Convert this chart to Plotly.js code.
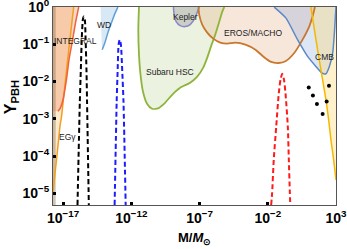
<!DOCTYPE html>
<html><head><meta charset="utf-8">
<script src="https://cdn.plot.ly/plotly-3.0.1.min.js"></script>
<style>html,body{margin:0;padding:0;background:#fff}#chart{width:347px;height:249px}</style>
</head><body><div id="chart"></div>
<script>
// All values are log10(M/Msun) and log10(Y_PBH).
const xTickExp = [-17, -12, -7, -2, 3];
const yTickExp = [0, -1, -2, -3, -4, -5];

const stripLogM = [-17.735, -17.54, -17.54, -17.735];
const stripLogY = [-5.315, -5.315, 0, 0];

const egLogM = [-17.735, -17.44, -17.21, -17.12, -16.82, -16.51, -16.22];
const egLogY = [-4.957, -3.97, -3.16, -2.97, -1.95, -0.92, 0];

const integralLogM = [-17.37, -17.21, -17.0, -16.75, -16.54, -16.32, -16.07, -15.85];
const integralLogY = [-2.80, -2.72, -2.49, -1.95, -1.36, -0.92, -0.39, 0];

const wdLeftLogM = [-14.25, -14.228, -14.169, -14.132];
const wdLeftLogY = [0, -0.471, -0.928, -1.144];
const wdLogM = [-14.132, -13.934, -13.69, -13.42, -13.20, -12.98];
const wdLogY = [-1.144, -0.955, -0.659, -0.39, -0.175, 0];

const hscLogM = [-11.434, -11.485, -11.434, -11.323, -11.14, -10.845, -10.478, -10.037, -9.522, -9.007, -8.419, -7.684, -7.168, -6.727, -6.433, -6.139, -5.845, -5.551, -5.33, -5.184];
const hscLogY = [0, -0.605, -1.278, -1.816, -2.274, -2.597, -2.731, -2.718, -2.57, -2.355, -2.166, -2.032, -1.870, -1.628, -1.359, -1.036, -0.740, -0.390, -0.121, 0];

const keplerLogM = [-8.912, -8.86, -8.713, -8.419, -8.051, -7.684, -7.316, -7.096, -7.02];
const keplerLogY = [0, -0.202, -0.39, -0.498, -0.525, -0.471, -0.283, -0.067, 0];

const erosLogM = [-7.074, -7.022, -6.801, -6.434, -5.992, -5.478, -4.963, -4.375, -3.64, -2.90, -2.315, -1.80, -1.213, -0.699, -0.059, 0.551, 1.044, 1.287, 1.456];
const erosLogY = [0, -0.202, -0.471, -0.686, -0.848, -0.955, -0.982, -0.955, -1.009, -1.144, -1.332, -1.467, -1.502, -1.453, -1.233, -0.875, -0.517, -0.248, 0];

const cmbLogM = [-1.529, -0.676, 0.184, 0.919, 1.53, 1.971, 2.265, 2.515, 2.758, 2.883, 2.956, 3.0];
const cmbLogY = [0, -0.291, -0.875, -1.324, -1.593, -1.771, -1.790, -1.593, -1.232, -0.694, -0.248, 0];

const accLogM = [1.162, 1.456, 1.853, 2.265, 2.463, 2.632, 2.83, 3.0];
const accLogY = [0, -0.694, -1.593, -2.489, -3.027, -3.566, -4.104, -4.642];

const dotLogM = [1.005, 1.309, 1.603, 2.022, 2.486, 2.316];
const dotLogY = [-2.158, -2.374, -2.605, -2.874, -2.113, -2.535];

const blackLogM = [-15.94, -15.77, -15.70, -15.625, -15.55, -15.48, -15.40, -15.35, -15.28, -15.24, -15.11];
const blackLogY = [-5.315, -2.54, -1.73, -0.82, -0.34, -0.25, -0.34, -0.82, -1.73, -2.54, -5.315];

const blueLogM = [-13.22, -13.07, -13.0, -12.93, -12.846, -12.76, -12.66, -12.57, -12.41];
const blueLogY = [-5.315, -2.54, -1.73, -1.01, -0.875, -1.01, -1.73, -2.54, -5.315];

const redLogM = [-1.75, -1.68, -1.56, -1.38, -1.19, -1.065, -0.94, -0.81, -0.70, -0.53, -0.455, -0.38, -0.35];
const redLogY = [-5.315, -5.0, -4.10, -3.21, -2.31, -1.95, -1.79, -1.95, -2.31, -3.21, -4.10, -5.0, -5.315];

const labelText = ['INTEGRAL', 'WD', 'Subaru HSC', 'Kepler', 'EROS/MACHO', 'CMB', 'EGγ'];
const labelLogM = [-16.10, -13.97, -9.154, -8.051, -3.051, 2.19, -16.69];
const labelLogY = [-0.92, -0.471, -1.755, -0.256, -0.686, -1.34, -3.493];

const xMin = -17.735, xMax = 3, yMin = -5.315, yMax = 0;
const P = a => a.map(v => Math.pow(10, v));

function fillTrace(lm, ly, color) {
  return {x: P(lm), y: P(ly), mode: 'lines', fill: 'toself', fillcolor: color,
          line: {width: 0, color: 'rgba(0,0,0,0)'}, hoverinfo: 'skip', showlegend: false};
}
function lineTrace(lm, ly, color, width, dash, shape) {
  return {x: P(lm), y: P(ly), mode: 'lines',
          line: {width: width, color: color, dash: dash || 'solid', shape: shape || 'spline', smoothing: 0.6},
          hoverinfo: 'skip', showlegend: false, cliponaxis: true};
}

const traces = [];
traces.push(fillTrace(egLogM.concat([xMin, xMin]), egLogY.concat([yMax, egLogY[0]]), 'rgba(250,185,100,0.30)'));
traces.push(fillTrace(integralLogM.concat([xMin, xMin]), integralLogY.concat([yMax, integralLogY[0]]), 'rgba(235,120,70,0.28)'));
traces.push(fillTrace(stripLogM, stripLogY, 'rgba(150,120,85,0.45)'));
traces.push(fillTrace(wdLeftLogM.concat(wdLogM.slice(1)), wdLeftLogY.concat(wdLogY.slice(1)), 'rgba(140,185,225,0.33)'));
traces.push(fillTrace(hscLogM, hscLogY, 'rgba(165,195,110,0.22)'));
traces.push(fillTrace(keplerLogM, keplerLogY, 'rgba(140,140,150,0.35)'));
traces.push(fillTrace(erosLogM, erosLogY, 'rgba(230,175,135,0.30)'));
traces.push(fillTrace(cmbLogM, cmbLogY, 'rgba(130,165,215,0.28)'));
traces.push(fillTrace(accLogM.concat([xMax]), accLogY.concat([yMax]), 'rgba(255,215,110,0.35)'));

traces.push(lineTrace(egLogM, egLogY, '#f0a01e', 1.5));
traces.push(lineTrace(integralLogM, integralLogY, '#f2603c', 1.5));
traces.push(lineTrace(wdLogM, wdLogY, '#5e9fd6', 1.5));
traces.push(lineTrace(hscLogM, hscLogY, '#8fb43c', 1.8));
traces.push(lineTrace(keplerLogM, keplerLogY, '#8c86c8', 1.5));
traces.push(lineTrace(erosLogM, erosLogY, '#c8782c', 1.8));
traces.push(lineTrace(cmbLogM, cmbLogY, '#5b88c6', 1.5));
traces.push(lineTrace(accLogM, accLogY, '#f5b800', 1.5));

traces.push(lineTrace(blackLogM, blackLogY, '#000000', 2, '5px,3px'));
traces.push(lineTrace(blueLogM, blueLogY, '#1c1cff', 2, '5px,3px'));
traces.push(lineTrace(redLogM, redLogY, '#ff1a1a', 2, '5px,3px'));

traces.push({x: P(dotLogM), y: P(dotLogY), mode: 'markers',
  marker: {size: 4, color: '#000'}, hoverinfo: 'skip', showlegend: false});

const sup = e => '10<sup>' + (e < 0 ? '\u2212' + (-e) : e) + '</sup>';
const FAM = 'Liberation Sans, Arial, sans-serif';
const tickFont = {family: FAM, size: 14, color: '#000', weight: 'bold'};

const annotations = labelText.map((t, i) => ({
  x: labelLogM[i], y: labelLogY[i], xref: 'x', yref: 'y', text: t, showarrow: false,
  font: {family: FAM, size: 8.5, color: '#222'}
}));
annotations.push({xref: 'paper', yref: 'paper', x: 0.5, y: -0.17, text: 'M/<i>M</i><sub>⊙</sub>',
  showarrow: false, yanchor: 'middle', font: {family: FAM, size: 13, color: '#000', weight: 'bold'}});
annotations.push({xref: 'paper', yref: 'paper', x: -0.148, y: 0.545, text: 'Y<sub>PBH</sub>', textangle: -90,
  showarrow: false, xanchor: 'center', yanchor: 'middle', font: {family: FAM, size: 16, color: '#000', weight: 'bold'}});

const axisCommon = {showline: true, mirror: true, linecolor: '#555', linewidth: 1, showgrid: false, zeroline: false,
  ticks: 'inside', ticklen: 3, tickwidth: 3, tickcolor: '#000', tickfont: tickFont, ticklabeloverflow: 'allow'};

const layout = {
  width: 347, height: 249,
  margin: {l: 53, r: 11, t: 7, b: 44},
  paper_bgcolor: '#fff', plot_bgcolor: '#fff',
  showlegend: false,
  xaxis: Object.assign({type: 'log', range: [xMin, xMax + 0.001], tickvals: P(xTickExp), ticktext: xTickExp.map(sup)}, axisCommon),
  yaxis: Object.assign({type: 'log', range: [yMin, yMax + 0.002], tickvals: P(yTickExp), ticktext: yTickExp.map(sup)}, axisCommon),
  annotations: annotations
};

Plotly.newPlot('chart', traces, layout, {staticPlot: true, displayModeBar: false});
</script>
</body></html>
